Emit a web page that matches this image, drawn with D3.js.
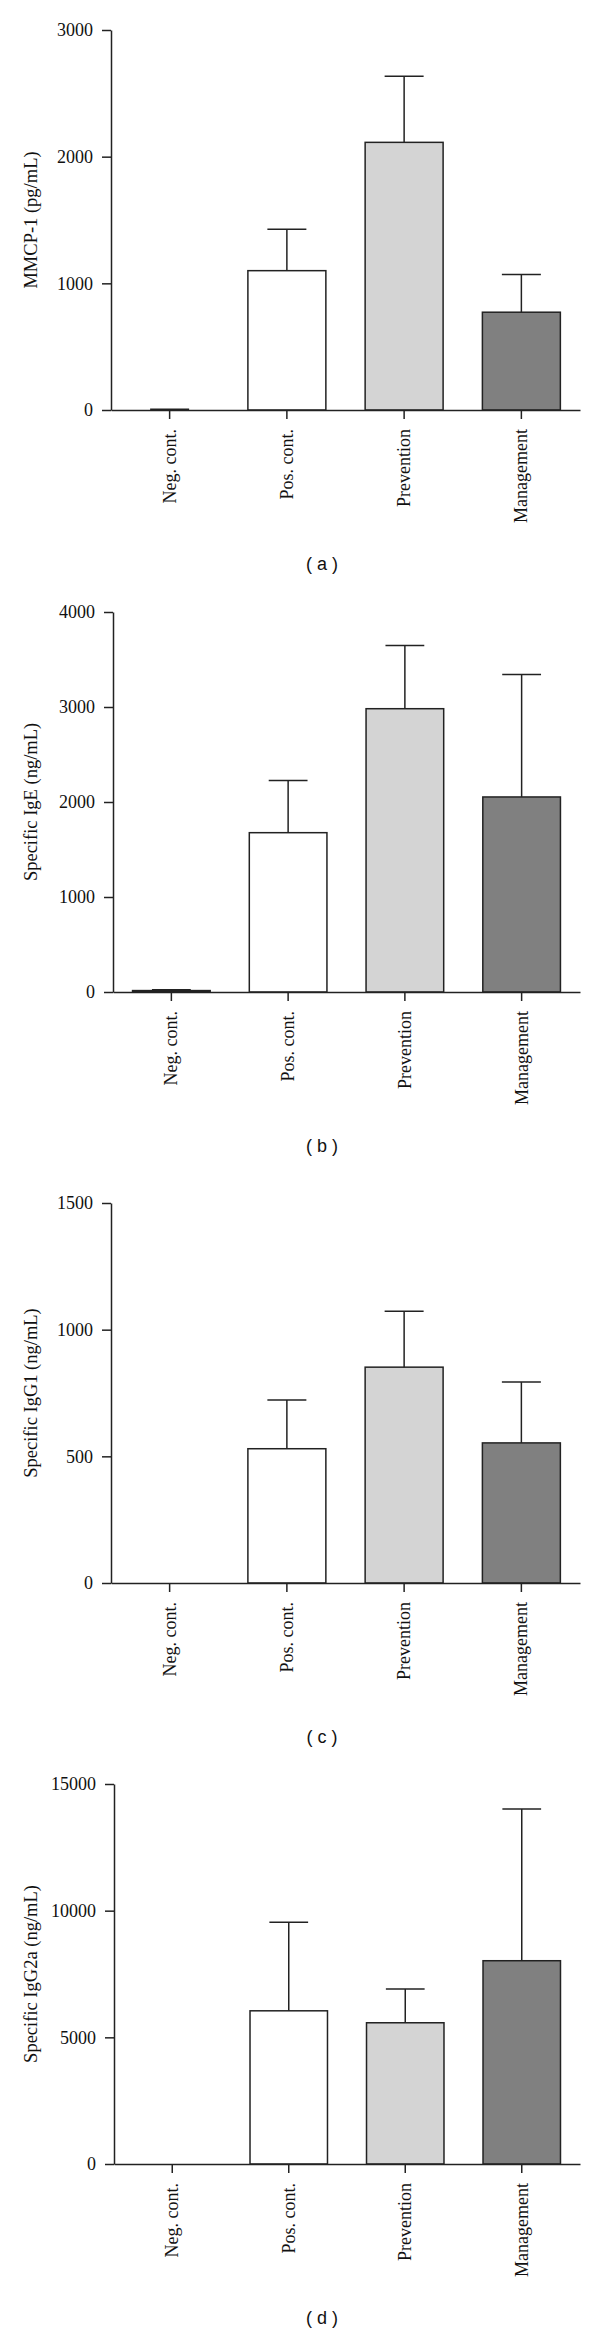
<!DOCTYPE html>
<html>
<head>
<meta charset="utf-8">
<script src="https://cdn.jsdelivr.net/npm/d3@7"></script>
<style>
  body { margin: 0; background: #fff; }
  .axis text { font-family: 'Liberation Serif', serif; font-size: 18px; fill: #111; }
  .axis path, .axis line { stroke: #222; stroke-width: 1.5; }
  .label { font-family: 'Liberation Serif', serif; font-size: 18.5px; fill: #111; }
  .caption { font-family: 'Liberation Sans', sans-serif; font-size: 18px; fill: #111; }
</style>
</head>
<body>
<div id="vis"></div>
<script>

var width = 600,
  height = 2333

// Data

var categories = [ 'Neg. cont.', 'Pos. cont.', 'Prevention', 'Management' ];

var mmcpMean = [ 0, 1100, 2113, 772 ];
var mmcpErr = [ 5, 326, 522, 298 ];
var mmcpTicks = [ 0, 1000, 2000, 3000 ];

var igeMean = [ 15, 1677, 2982, 2053 ];
var igeErr = [ 10, 549, 666, 1288 ];
var igeTicks = [ 0, 1000, 2000, 3000, 4000 ];

var igg1Mean = [ 0, 530, 852, 553 ];
var igg1Err = [ 0, 192, 221, 240 ];
var igg1Ticks = [ 0, 500, 1000, 1500 ];

var igg2aMean = [ 0, 6047, 5575, 8024 ];
var igg2aErr = [ 0, 3496, 1328, 5988 ];
var igg2aTicks = [ 0, 5000, 10000, 15000 ];

var fills = [ '#ffffff', '#ffffff', '#d4d4d4', '#808080' ];

/* Drawing */

var svg = d3.select( '#vis' ).append( 'svg' )
  .attr( 'width', width )
  .attr( 'height', height );

draw_panel( { top: 30, left: 111, mean: mmcpMean, err: mmcpErr, ticks: mmcpTicks, label: 'MMCP-1 (pg/mL)', caption: '( a )' } );
draw_panel( { top: 612, left: 113, mean: igeMean, err: igeErr, ticks: igeTicks, label: 'Specific IgE (ng/mL)', caption: '( b )' } );
draw_panel( { top: 1203, left: 111, mean: igg1Mean, err: igg1Err, ticks: igg1Ticks, label: 'Specific IgG1 (ng/mL)', caption: '( c )' } );
draw_panel( { top: 1784, left: 114, mean: igg2aMean, err: igg2aErr, ticks: igg2aTicks, label: 'Specific IgG2a (ng/mL)', caption: '( d )' } );

function draw_panel( p ) {

  var plotHeight = 380,
    right = 580,
    base = p.top + plotHeight;

  var data = categories.map( ( c, i ) => ( { cat: c, mean: p.mean[ i ], err: p.err[ i ], fill: fills[ i ] } ) );

  var x = d3.scaleBand()
    .domain( categories )
    .range( [ p.left, right ] )
    .paddingInner( 0.335 )
    .paddingOuter( 0.1675 );

  var y = d3.scaleLinear()
    .domain( [ 0, d3.max( p.ticks ) ] )
    .range( [ base, p.top ] );

  var g = svg.append( 'g' );

  // bars
  g.selectAll( 'rect.bar' )
    .data( data.filter( d => d.mean > 0 ) )
    .enter().append( 'rect' )
      .attr( 'class', 'bar' )
      .attr( 'x', d => x( d.cat ) )
      .attr( 'y', d => y( d.mean ) )
      .attr( 'width', x.bandwidth() )
      .attr( 'height', d => y( 0 ) - y( d.mean ) )
      .attr( 'fill', d => d.fill )
      .attr( 'stroke', '#222' )
      .attr( 'stroke-width', 1.5 );

  // error bars (upper only)
  var eb = data.filter( d => d.err > 0 );

  g.selectAll( 'line.err' )
    .data( eb )
    .enter().append( 'line' )
      .attr( 'class', 'err' )
      .attr( 'x1', d => x( d.cat ) + x.bandwidth() / 2 )
      .attr( 'x2', d => x( d.cat ) + x.bandwidth() / 2 )
      .attr( 'y1', d => y( d.mean ) )
      .attr( 'y2', d => y( d.mean + d.err ) )
      .attr( 'stroke', '#222' )
      .attr( 'stroke-width', 1.5 );

  g.selectAll( 'line.cap' )
    .data( eb )
    .enter().append( 'line' )
      .attr( 'class', 'cap' )
      .attr( 'x1', d => x( d.cat ) + x.bandwidth() / 4 )
      .attr( 'x2', d => x( d.cat ) + x.bandwidth() * 3 / 4 )
      .attr( 'y1', d => y( d.mean + d.err ) )
      .attr( 'y2', d => y( d.mean + d.err ) )
      .attr( 'stroke', '#222' )
      .attr( 'stroke-width', 1.5 );

  // axes
  g.append( 'g' )
    .attr( 'class', 'axis' )
    .attr( 'transform', 'translate(' + p.left + ',0)' )
    .call( d3.axisLeft( y ).tickValues( p.ticks ).tickSize( 9 ).tickSizeOuter( 0 ).tickPadding( 9 ).tickFormat( d3.format( 'd' ) ) );

  var xa = g.append( 'g' )
    .attr( 'class', 'axis' )
    .attr( 'transform', 'translate(0,' + base + ')' )
    .call( d3.axisBottom( x ).tickSize( 9 ).tickSizeOuter( 0 ) );

  xa.selectAll( 'text' )
    .attr( 'transform', 'rotate(-90)' )
    .attr( 'x', -19 )
    .attr( 'y', 0 )
    .attr( 'dy', '0.33em' )
    .style( 'text-anchor', 'end' );

  // y label
  g.append( 'text' )
    .attr( 'class', 'label' )
    .attr( 'transform', 'translate(31,' + ( p.top + plotHeight / 2 ) + ')rotate(-90)' )
    .attr( 'dy', '0.35em' )
    .attr( 'text-anchor', 'middle' )
    .text( p.label );

  // caption
  g.append( 'text' )
    .attr( 'class', 'caption' )
    .attr( 'x', 322 )
    .attr( 'y', base + 154 )
    .attr( 'dy', '0.35em' )
    .attr( 'text-anchor', 'middle' )
    .attr( 'xml:space', 'preserve' )
    .text( p.caption );

}

</script>
</body>
</html>
